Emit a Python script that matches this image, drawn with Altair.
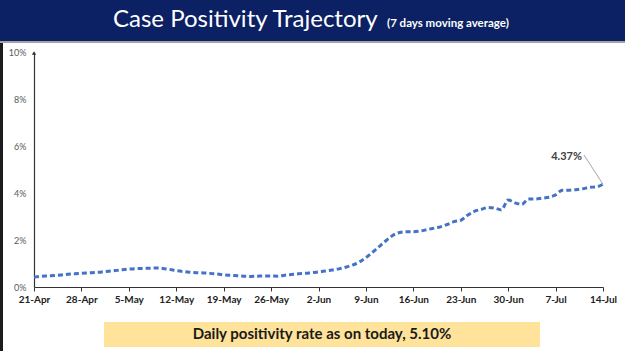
import json
import altair as alt
import pandas as pd

# ---- data ----
tick_labels = ["21-Apr", "28-Apr", "5-May", "12-May", "19-May", "26-May", "2-Jun",
               "9-Jun", "16-Jun", "23-Jun", "30-Jun", "7-Jul", "14-Jul"]
positivity = [
    0.42, 0.45, 0.47, 0.49, 0.51, 0.54, 0.56,
    0.58, 0.60, 0.62, 0.64, 0.67, 0.70, 0.73,
    0.76, 0.78, 0.79, 0.80, 0.81, 0.79, 0.75,
    0.70, 0.66, 0.63, 0.61, 0.60, 0.58, 0.55,
    0.52, 0.50, 0.48, 0.46, 0.45, 0.46, 0.47,
    0.47, 0.46, 0.50, 0.53, 0.56, 0.58, 0.61,
    0.64, 0.68, 0.72, 0.77, 0.84, 0.93, 1.06,
    1.25, 1.48, 1.73, 1.98, 2.20, 2.32, 2.35,
    2.35, 2.38, 2.44, 2.50, 2.56, 2.66, 2.78,
    2.84, 3.05, 3.22, 3.30, 3.38, 3.36, 3.28,
    3.70, 3.58, 3.52, 3.74, 3.74, 3.78, 3.82,
    3.92, 4.12, 4.12, 4.14, 4.18, 4.24, 4.26,
    4.37,
]
y_ticks = [0, 2, 4, 6, 8, 10]
title_text = "Case Positivity Trajectory"
subtitle_text = "(7 days moving average)"
footer_text = "Daily positivity rate as on today, 5.10%"
last_label = "4.37%"

days = list(range(len(positivity)))
df = pd.DataFrame({"day": days, "rate": positivity})
one = pd.DataFrame({"k": [0]})

NAVY = "#0b2163"
FONT = "Lato"

label_expr = json.dumps(tick_labels) + "[round(datum.value/7)]"

x_scale = alt.Scale(domain=[0, len(positivity) - 1], nice=False)
y_scale = alt.Scale(domain=[0, 10], nice=False)

line = alt.Chart(df).mark_line(
    color="#4472C4", strokeWidth=3, strokeDash=[5, 3], interpolate="monotone"
).encode(
    x=alt.X("day:Q", scale=x_scale,
            axis=alt.Axis(values=list(range(0, 85, 7)), labelExpr=label_expr,
                          tickSize=4, tickColor="#333", domainColor="#333",
                          domainWidth=1.2, labelFontSize=10, labelFontWeight="bold",
                          labelColor="#222", labelPadding=3, title=None, grid=False,
                          labelFont=FONT, labelFlush=False)),
    y=alt.Y("rate:Q", scale=y_scale,
            axis=alt.Axis(values=y_ticks, labelExpr="datum.value + '%'", ticks=False,
                          grid=False, domainColor="#333", domainWidth=1.2,
                          labelFontSize=9, labelColor="#595959", labelPadding=8,
                          title=None, labelFont=FONT)),
)

arrow = alt.Chart(one).mark_point(shape="triangle-up", filled=True, size=18,
                                  color="#333", opacity=1).encode(
    x=alt.value(0), y=alt.value(1))

banner = alt.Chart(one).mark_rect(color=NAVY).encode(
    x=alt.value(-34), x2=alt.value(591), y=alt.value(-52), y2=alt.value(-11))
banner_line = alt.Chart(one).mark_rect(color="#a0a4a8").encode(
    x=alt.value(-34), x2=alt.value(591), y=alt.value(-11), y2=alt.value(-9))
left_border = alt.Chart(one).mark_rect(color="#1c1c1c").encode(
    x=alt.value(-34), x2=alt.value(-31), y=alt.value(-9), y2=alt.value(299))

title = alt.Chart(one).mark_text(
    text=title_text, color="white", fontSize=24, font=FONT, align="left",
    baseline="alphabetic").encode(x=alt.value(79), y=alt.value(-25))
subtitle = alt.Chart(one).mark_text(
    text=subtitle_text, color="white", fontSize=11.5, fontWeight="bold", font=FONT,
    align="left", baseline="alphabetic").encode(x=alt.value(353), y=alt.value(-25))

ann_df = pd.DataFrame({"day": [days[-1]], "rate": [positivity[-1]]})
leader = alt.Chart(ann_df).mark_rule(color="#a6a6a6", strokeWidth=1).encode(
    x=alt.X("day:Q", scale=x_scale), y=alt.Y("rate:Q", scale=y_scale),
    x2=alt.value(550), y2=alt.value(103))
ann_text = alt.Chart(one).mark_text(
    text=last_label, color="#404040", fontSize=11, fontWeight="bold", font=FONT,
    align="right", baseline="middle").encode(x=alt.value(548), y=alt.value(105))

box = alt.Chart(one).mark_rect(color="#FFE39A").encode(
    x=alt.value(70), x2=alt.value(506), y=alt.value(270), y2=alt.value(295))
footer = alt.Chart(one).mark_text(
    text=footer_text, color="#1a1a1a", fontSize=15, fontWeight="bold", font=FONT,
    align="center", baseline="middle").encode(x=alt.value(288), y=alt.value(282))

chart = alt.layer(
    banner, banner_line, left_border, title, subtitle,
    line, arrow, leader, ann_text, box, footer,
).properties(
    width=569, height=235,
    autosize=alt.AutoSizeParams(type="none"),
    padding={"left": 34, "top": 52, "right": 22, "bottom": 64},
    background="white",
).configure_view(stroke=None)

chart.save("out.html", embed_options={"renderer": "svg", "actions": False})
